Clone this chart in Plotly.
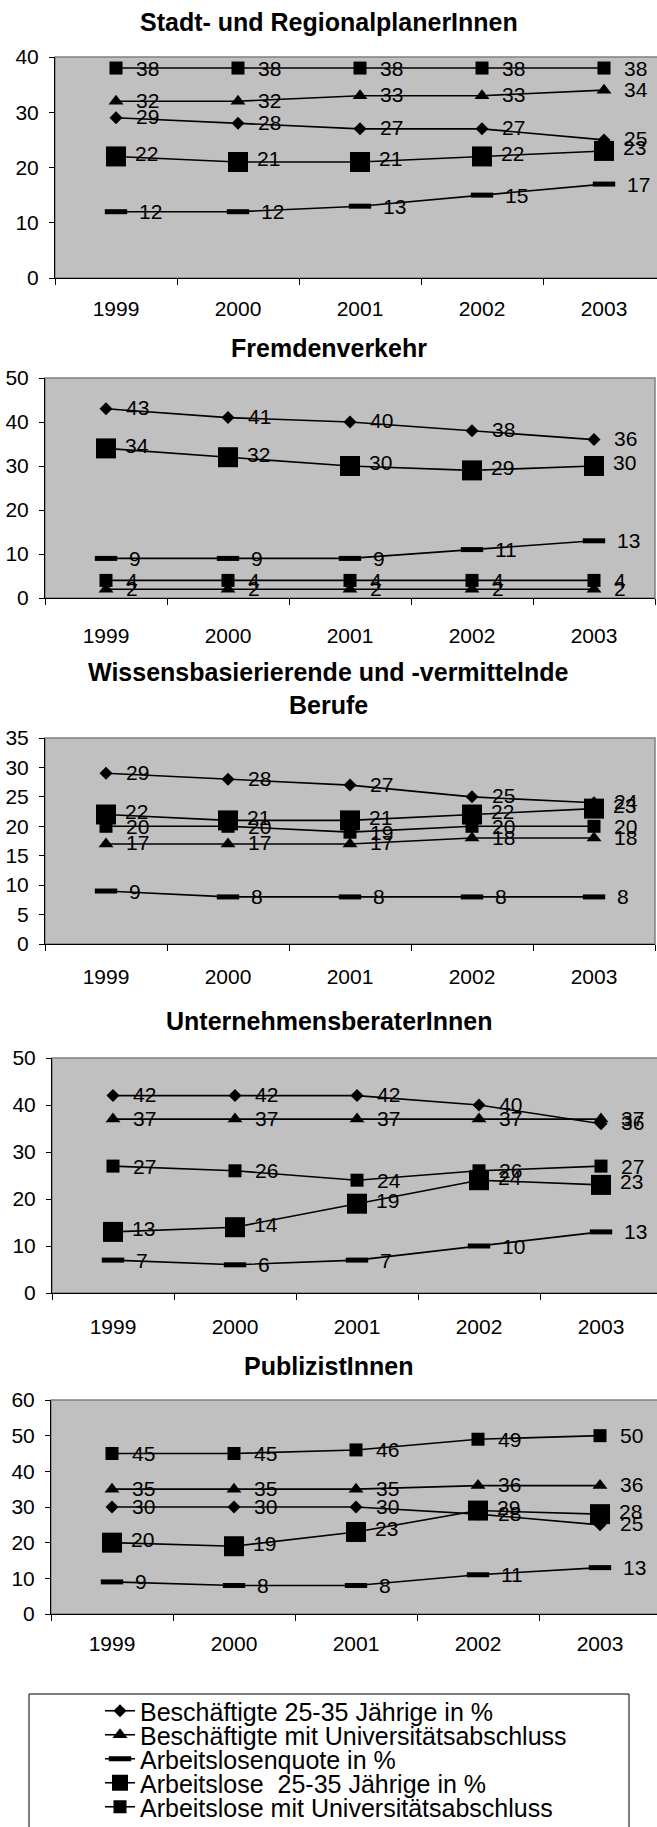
import plotly.graph_objects as go

# ---------------- data ----------------
years = ["1999", "2000", "2001", "2002", "2003"]
series_names = [
    "Beschäftigte 25-35 Jährige in %",
    "Beschäftigte mit Universitätsabschluss",
    "Arbeitslosenquote in %",
    "Arbeitslose\u00a0 25-35 Jährige in %",
    "Arbeitslose mit Universitätsabschluss",
]
panel_titles = [
    ["Stadt- und RegionalplanerInnen"],
    ["Fremdenverkehr"],
    ["Wissensbasierierende und -vermittelnde", "Berufe"],
    ["UnternehmensberaterInnen"],
    ["PublizistInnen"],
]

stadt_besch_25_35 = [29, 28, 27, 27, 25]
stadt_besch_uni = [32, 32, 33, 33, 34]
stadt_al_quote = [12, 12, 13, 15, 17]
stadt_al_25_35 = [22, 21, 21, 22, 23]
stadt_al_uni = [38, 38, 38, 38, 38]

fremd_besch_25_35 = [43, 41, 40, 38, 36]
fremd_besch_uni = [2, 2, 2, 2, 2]
fremd_al_quote = [9, 9, 9, 11, 13]
fremd_al_25_35 = [34, 32, 30, 29, 30]
fremd_al_uni = [4, 4, 4, 4, 4]

wissen_besch_25_35 = [29, 28, 27, 25, 24]
wissen_besch_uni = [17, 17, 17, 18, 18]
wissen_al_quote = [9, 8, 8, 8, 8]
wissen_al_25_35 = [22, 21, 21, 22, 23]
wissen_al_uni = [20, 20, 19, 20, 20]

unt_besch_25_35 = [42, 42, 42, 40, 36]
unt_besch_uni = [37, 37, 37, 37, 37]
unt_al_quote = [7, 6, 7, 10, 13]
unt_al_25_35 = [13, 14, 19, 24, 23]
unt_al_uni = [27, 26, 24, 26, 27]

publ_besch_25_35 = [30, 30, 30, 28, 25]
publ_besch_uni = [35, 35, 35, 36, 36]
publ_al_quote = [9, 8, 8, 11, 13]
publ_al_25_35 = [20, 19, 23, 29, 28]
publ_al_uni = [45, 45, 46, 49, 50]

panel_data = [
    [stadt_besch_25_35, stadt_besch_uni, stadt_al_quote, stadt_al_25_35, stadt_al_uni],
    [fremd_besch_25_35, fremd_besch_uni, fremd_al_quote, fremd_al_25_35, fremd_al_uni],
    [wissen_besch_25_35, wissen_besch_uni, wissen_al_quote, wissen_al_25_35, wissen_al_uni],
    [unt_besch_25_35, unt_besch_uni, unt_al_quote, unt_al_25_35, unt_al_uni],
    [publ_besch_25_35, publ_besch_uni, publ_al_quote, publ_al_25_35, publ_al_uni],
]
y_max = [40, 50, 35, 50, 60]
y_step = [10, 10, 5, 10, 10]

# ---------------- styling / layout (pixels) ----------------
W, H = 657, 1827
FONT = "Liberation Sans, Arial, sans-serif"
# left, true right, top, bottom of plot areas
boxes = [
    (55, 665, 57, 278),
    (45, 655, 378, 598),
    (45, 655, 738, 944),
    (52, 662, 1058, 1293),
    (51, 661, 1400, 1614),
]
title_y = [[22], [348], [672, 705], [1021], [1366]]
x_standoff = [12, 19, 14, 15, 11]

symbols = ["diamond", "triangle-up", "line-ew", "square", "square"]
sizes = [10, 13, 16, 20, 13]
mline_w = [0, 0, 5, 0, 0]
lab_xshift = [18, 18, 21, 17, 18]
lab_yshift = [1, 1, 0, 3, 0]
legend_rows = [1711, 1735, 1759, 1783, 1807]


def py(px):
    return 1 - px / H


fig = go.Figure()
annotations = []
shapes = []
layout_extra = {}

for p in range(5):
    n = p + 1
    xa = "x" if n == 1 else f"x{n}"
    ya = "y" if n == 1 else f"y{n}"
    left, right, top, bottom = boxes[p]
    vis_right = min(right, W)
    span = 5 * (vis_right - left) / (right - left)
    layout_extra[f"xaxis{n}"] = dict(
        domain=[left / W, vis_right / W],
        anchor=ya,
        type="category",
        categoryorder="array",
        categoryarray=years,
        range=[-0.5, -0.5 + span],
        tickson="boundaries",
        ticks="outside",
        ticklen=6,
        tickcolor="black",
        showline=True,
        linecolor="black",
        linewidth=1,
        showgrid=False,
        zeroline=False,
        ticklabelstandoff=x_standoff[p],
        tickfont=dict(family=FONT, size=21, color="black"),
        fixedrange=True,
    )
    layout_extra[f"yaxis{n}"] = dict(
        domain=[py(bottom), py(top)],
        anchor=xa,
        range=[0, y_max[p]],
        dtick=y_step[p],
        tick0=0,
        ticks="outside",
        ticklen=5,
        tickcolor="black",
        showline=True,
        linecolor="black",
        linewidth=1,
        showgrid=False,
        zeroline=False,
        ticklabelstandoff=6,
        tickfont=dict(family=FONT, size=21, color="black"),
        fixedrange=True,
    )
    # gray plot-area border (top / right)
    shapes.append(dict(
        type="rect", xref=f"{xa} domain", yref=f"{ya} domain",
        x0=0, x1=(right - left) / (vis_right - left), y0=0, y1=1,
        line=dict(color="#808080", width=1.5), layer="below",
    ))
    for s in range(5):
        vals = panel_data[p][s]
        tr = dict(
            x=years, y=vals, xaxis=xa, yaxis=ya,
            mode="lines+markers",
            name=series_names[s],
            showlegend=(p == 0),
            line=dict(color="black", width=1.6),
            marker=dict(symbol=symbols[s], size=sizes[s], color="black",
                        line=dict(color="black", width=mline_w[s])),
            cliponaxis=False,
        )
        if p == 0:
            tr["legend"] = "legend" if s == 0 else f"legend{s + 1}"
        fig.add_trace(go.Scatter(**tr))
        for i, v in enumerate(vals):
            annotations.append(dict(
                x=i, y=v, xref=xa, yref=ya, text=str(v), showarrow=False,
                xanchor="left", yanchor="middle",
                xshift=lab_xshift[s], yshift=lab_yshift[s],
                font=dict(family=FONT, size=21, color="black"),
            ))
    for t_text, t_y in zip(panel_titles[p], title_y[p]):
        annotations.append(dict(
            x=0.5, y=py(t_y), xref="paper", yref="paper",
            text=f"<b>{t_text}</b>", showarrow=False,
            xanchor="center", yanchor="middle",
            font=dict(family=FONT, size=25, color="black"),
        ))

# legend frame
shapes.append(dict(
    type="rect", xref="paper", yref="paper",
    x0=29 / W, x1=629 / W, y0=py(1840), y1=py(1694),
    line=dict(color="black", width=1), fillcolor="rgba(0,0,0,0)",
))

for s in range(5):
    key = "legend" if s == 0 else f"legend{s + 1}"
    layout_extra[key] = dict(
        x=100 / W, y=py(legend_rows[s]), xanchor="left", yanchor="middle",
        bgcolor="rgba(0,0,0,0)", borderwidth=0,
        font=dict(family=FONT, size=25, color="black"),
        itemwidth=30,
    )

fig.update_layout(
    width=W, height=H,
    margin=dict(l=0, r=0, t=0, b=0, pad=0, autoexpand=False),
    paper_bgcolor="white",
    plot_bgcolor="#C0C0C0",
    font=dict(family=FONT, size=20, color="black"),
    annotations=annotations,
    shapes=shapes,
    showlegend=True,
    **layout_extra,
)

fig.write_html("out.html")
